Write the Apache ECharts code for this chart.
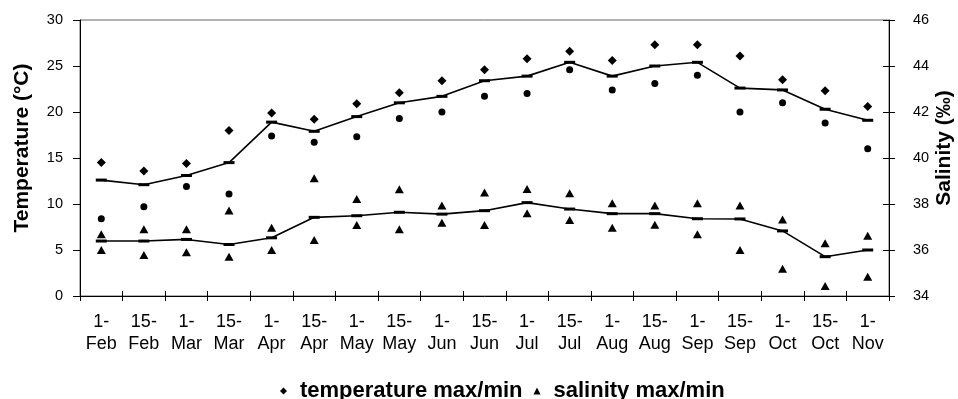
<!DOCTYPE html>
<html>
<head>
<meta charset="utf-8">
<script src="https://cdn.jsdelivr.net/npm/echarts@6/dist/echarts.min.js"></script>
<style>html,body{margin:0;padding:0;background:#fff}#c{width:958px;height:399px}</style>
</head>
<body>
<div id="c"></div>
<script>
var categories = ['1-\nFeb','15-\nFeb','1-\nMar','15-\nMar','1-\nApr','15-\nApr','1-\nMay','15-\nMay','1-\nJun','15-\nJun','1-\nJul','15-\nJul','1-\nAug','15-\nAug','1-\nSep','15-\nSep','1-\nOct','15-\nOct','1-\nNov'];
var tempMax  = [14.5, 13.6, 14.4, 18.0, 19.9, 19.2, 20.9, 22.1, 23.4, 24.6, 25.8, 26.6, 25.6, 27.3, 27.3, 26.1, 23.5, 22.3, 20.6];
var tempMean = [12.6, 12.1, 13.1, 14.5, 18.9, 17.9, 19.5, 21.0, 21.7, 23.4, 23.9, 25.4, 23.9, 25.0, 25.4, 22.6, 22.4, 20.3, 19.1];
var tempMin  = [8.4, 9.7, 11.9, 11.1, 17.4, 16.7, 17.3, 19.3, 20.0, 21.7, 22.0, 24.6, 22.4, 23.1, 24.0, 20.0, 21.0, 18.8, 16.0];
var salMax  = [36.68, 36.90, 36.90, 37.72, 36.97, 39.12, 38.22, 38.64, 37.94, 38.50, 38.65, 38.47, 38.03, 37.94, 38.03, 37.94, 37.33, 36.29, 36.62];
var salMean = [36.39, 36.39, 36.46, 36.24, 36.53, 37.42, 37.49, 37.64, 37.56, 37.71, 38.06, 37.78, 37.58, 37.58, 37.36, 37.35, 36.83, 35.71, 36.00];
var salMin  = [36.00, 35.78, 35.90, 35.71, 36.00, 36.43, 37.09, 36.90, 37.19, 37.09, 37.60, 37.30, 36.97, 37.10, 36.68, 36.00, 35.19, 34.43, 34.84];
var tempTicks = {min: 0, max: 30, interval: 5};
var salTicks = {min: 34, max: 46, interval: 2};

var FONT = '"Liberation Sans", Arial, sans-serif';
var chart = echarts.init(document.getElementById('c'), null, {renderer: 'canvas'});
var lineCol = '#000';
var solid = {color: '#000', opacity: 1};
chart.setOption({
  animation: false,
  backgroundColor: '#fff',
  grid: {left: 80, right: 69, top: 20, bottom: 103, containLabel: false, outerBoundsMode: 'none', show: true, borderColor: '#666', borderWidth: 1, backgroundColor: 'transparent'},
  legend: {
    left: 280, top: 380, padding: 0,
    data: [{name: 'temperature max/min', itemStyle: {opacity: 1}}, {name: 'salinity max/min', itemStyle: {opacity: 1}}],
    itemWidth: 7, itemHeight: 7, itemGap: 11,
    textStyle: {fontFamily: FONT, fontWeight: 'bold', fontSize: 22, color: '#000', padding: [0, 0, 0, 8]}
  },
  xAxis: [{
    type: 'category', data: categories, position: 'bottom',
    axisLine: {lineStyle: {color: lineCol, width: 1}},
    axisTick: {show: true, length: 5, lineStyle: {color: lineCol}},
    axisLabel: {interval: 0, margin: 15, fontFamily: FONT, fontSize: 18, color: '#000', lineHeight: 22},
    splitLine: {show: false}
  }, {
    type: 'category', data: categories, position: 'bottom',
    axisLine: {show: false},
    axisTick: {show: true, inside: true, length: 5, lineStyle: {color: lineCol}},
    axisLabel: {show: false}, splitLine: {show: false}
  }],
  yAxis: [{
    type: 'value', position: 'left', min: tempTicks.min, max: tempTicks.max, interval: tempTicks.interval,
    name: 'Temperature (°C)', nameLocation: 'middle', nameGap: 47, nameRotate: 90, nameMoveOverlap: false,
    nameTextStyle: {fontFamily: FONT, fontWeight: 'bold', fontSize: 21, color: '#000', padding: [0, 0, 0, 20]},
    axisLine: {show: true, lineStyle: {color: lineCol, width: 1}},
    axisTick: {show: true, length: 7, lineStyle: {color: lineCol}},
    axisLabel: {margin: 17, fontFamily: FONT, fontSize: 14.5, color: '#000'},
    splitLine: {show: false}
  }, {
    type: 'value', position: 'right', min: salTicks.min, max: salTicks.max, interval: salTicks.interval,
    name: 'Salinity (‰)', nameLocation: 'middle', nameGap: 45, nameRotate: 90, nameMoveOverlap: false,
    nameTextStyle: {fontFamily: FONT, fontWeight: 'bold', fontSize: 21, color: '#000', padding: [0, 0, 0, 20]},
    axisLine: {show: true, lineStyle: {color: lineCol, width: 1}},
    axisTick: {show: true, length: 6, lineStyle: {color: lineCol}},
    axisLabel: {margin: 24, fontFamily: FONT, fontSize: 14.5, color: '#000'},
    splitLine: {show: false}
  }, {
    type: 'value', position: 'right', min: salTicks.min, max: salTicks.max, interval: salTicks.interval,
    axisLine: {show: false},
    axisTick: {show: true, inside: true, length: 6, lineStyle: {color: lineCol}},
    axisLabel: {show: false}, splitLine: {show: false}
  }],
  series: [
    {name: 'temperature mean', type: 'line', yAxisIndex: 0, data: tempMean, symbol: 'rect', symbolSize: [11, 3], lineStyle: {color: '#000', width: 1.6}, itemStyle: solid, z: 3},
    {name: 'salinity mean', type: 'line', yAxisIndex: 1, data: salMean, symbol: 'rect', symbolSize: [11, 3], lineStyle: {color: '#000', width: 1.6}, itemStyle: solid, z: 3},
    {name: 'temperature max/min', type: 'scatter', yAxisIndex: 0, data: tempMax, symbol: 'diamond', symbolSize: 9, itemStyle: solid},
    {name: 'temperature max/min', type: 'scatter', yAxisIndex: 0, data: tempMin, symbol: 'circle', symbolSize: 7, itemStyle: solid},
    {name: 'salinity max/min', type: 'scatter', yAxisIndex: 1, data: salMax, symbol: 'triangle', symbolSize: [9, 8], itemStyle: solid},
    {name: 'salinity max/min', type: 'scatter', yAxisIndex: 1, data: salMin, symbol: 'triangle', symbolSize: [9, 8], itemStyle: solid}
  ]
});
</script>
</body>
</html>
